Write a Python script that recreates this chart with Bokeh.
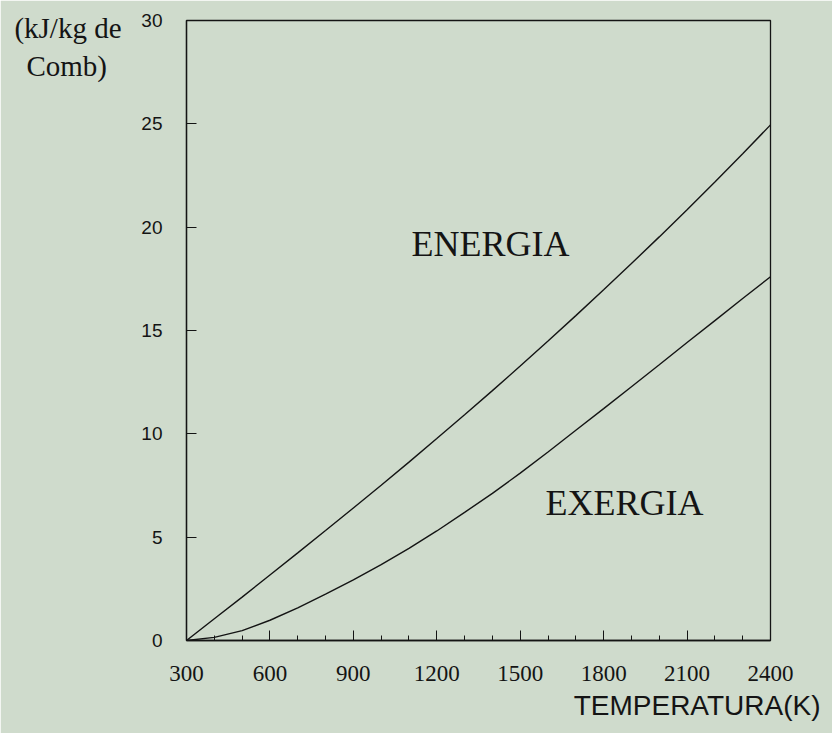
from bokeh.plotting import figure
from bokeh.models import Label, FixedTicker, Range1d, LinearAxis, Title
from bokeh.embed import file_html
from bokeh.resources import INLINE

# ---- data ----
temperatura = [300, 400, 500, 600, 700, 800, 900, 1000, 1100, 1200, 1300,
               1400, 1500, 1600, 1700, 1800, 1900, 2000, 2100, 2200, 2300, 2400]
energia = [0.0, 1.05, 2.1, 3.17, 4.24, 5.32, 6.41, 7.51, 8.63, 9.77, 10.92,
           12.09, 13.28, 14.49, 15.72, 16.97, 18.24, 19.53, 20.84, 22.18, 23.55, 24.95]
exergia = [0.0, 0.15, 0.48, 0.98, 1.58, 2.24, 2.93, 3.67, 4.46, 5.3, 6.2,
           7.12, 8.1, 9.12, 10.17, 11.22, 12.28, 13.34, 14.42, 15.48, 16.55, 17.6]

x_ticks = [300, 600, 900, 1200, 1500, 1800, 2100, 2400]
x_minor = [400, 500, 700, 800, 1000, 1100, 1300, 1400, 1600, 1700, 1900, 2000, 2200, 2300]
y_ticks = [0, 5, 10, 15, 20, 25, 30]

unit_text = ["(kJ/kg de", "Comb)\u00a0\u00a0"]
unit_pos = [29.66, 27.8]
x_title = "TEMPERATURA(K)"

BG = "#cfdbcc"
INK = "#141414"

p = figure(width=832, height=733, output_backend="svg", toolbar_location=None,
           x_range=Range1d(300, 2400), y_range=Range1d(0, 30),
           min_border_left=186, min_border_right=62, min_border_top=20,
           min_border_bottom=93)
p.background_fill_color = BG
p.border_fill_color = BG
p.outline_line_color = INK
p.outline_line_width = 1.3
p.xgrid.visible = False
p.ygrid.visible = False

p.line(temperatura, energia, line_color=INK, line_width=1.4)
p.line(temperatura, exergia, line_color=INK, line_width=1.4)

# x axis
xa = p.xaxis[0]
xa.ticker = FixedTicker(ticks=x_ticks, minor_ticks=x_minor)
xa.axis_line_color = INK
xa.axis_line_width = 1.3
xa.major_tick_in = 10
xa.major_tick_out = 0
xa.minor_tick_in = 5
xa.minor_tick_out = 0
xa.major_tick_line_color = INK
xa.minor_tick_line_color = INK
xa.major_label_text_font = "Liberation Serif"
xa.major_label_text_font_size = "23px"
xa.major_label_text_color = INK
xa.major_label_standoff = 25

# y axis
ya = p.yaxis[0]
ya.ticker = FixedTicker(ticks=y_ticks)
ya.axis_line_color = INK
ya.axis_line_width = 1.3
ya.major_tick_in = 10
ya.major_tick_out = 0
ya.minor_tick_line_color = None
ya.major_tick_line_color = INK
ya.major_label_text_font = "Liberation Sans"
ya.major_label_text_font_size = "19px"
ya.major_label_text_color = INK
ya.major_label_standoff = 24

# unit text: an outer, line-less left axis carrying two labels
ua = LinearAxis(ticker=FixedTicker(ticks=unit_pos, minor_ticks=[]),
                major_label_overrides=dict(zip(unit_pos, unit_text)))
ua.axis_line_color = None
ua.major_tick_line_color = None
ua.minor_tick_line_color = None
ua.major_tick_in = 0
ua.major_tick_out = 0
ua.major_label_text_font = "Liberation Serif"
ua.major_label_text_font_size = "29px"
ua.major_label_text_color = INK
ua.major_label_standoff = 17
p.add_layout(ua, "left")

# curve labels inside the plot
p.add_layout(Label(x=1393, y=19.2, text="ENERGIA", text_font="Liberation Serif",
                   text_font_size="36px", text_color=INK, text_align="center",
                   text_baseline="middle"))
p.add_layout(Label(x=1875, y=6.63, text="EXERGIA", text_font="Liberation Serif",
                   text_font_size="36px", text_color=INK, text_align="center",
                   text_baseline="middle"))

# x title, right-aligned below the axis
p.add_layout(Title(text=x_title, align="right", offset=-50, standoff=8,
                   text_font="Liberation Sans", text_font_size="28px",
                   text_font_style="normal", text_color=INK), "below")

open("out.html", "w").write(file_html(p, INLINE))
